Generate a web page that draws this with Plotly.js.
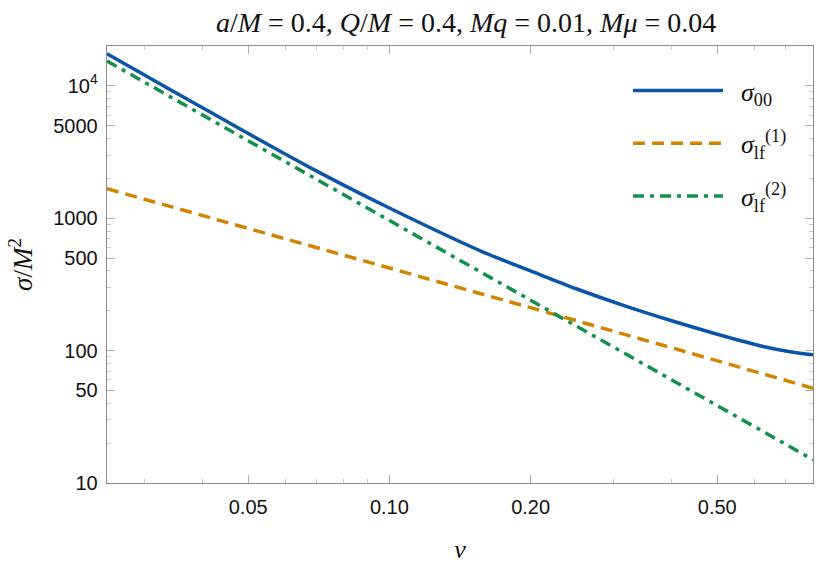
<!DOCTYPE html>
<html>
<head>
<meta charset="utf-8">
<script src="https://cdn.plot.ly/plotly-3.0.1.min.js"></script>
<style>
  html, body { margin: 0; padding: 0; background: #fff; }
  #chart { width: 825px; height: 573px; }
</style>
</head>
<body>
<div id="chart"></div>
<script>
// Cross sections versus velocity v (log-log)
const v00 = [0.025, 0.0345, 0.05, 0.07, 0.1, 0.158, 0.2, 0.251, 0.32, 0.4, 0.5, 0.63, 0.72, 0.8];
const sigma00 = [17500, 9150, 4370, 2270, 1195, 558, 400, 292, 216, 168, 133, 107, 97.5, 93];

const vLf = [0.025, 0.05, 0.1, 0.2, 0.4, 0.8];
const sigmaLf1 = [1670, 840, 421, 211, 105, 52];
const sigmaLf2 = [15400, 3840, 960, 240, 60, 15];

const xTickVals = [0.05, 0.1, 0.2, 0.5];
const xTickText = ['0.05', '0.10', '0.20', '0.50'];
const yTickVals = [10, 50, 100, 500, 1000, 5000, 10000];
const yTickText = ['10', '50', '100', '500', '1000', '5000', '10<sup>4</sup>'];

const serif = 'Liberation Serif, DejaVu Serif, serif';
const sans = 'Liberation Sans, Arial, sans-serif';
const pad = '\u00a0\u00a0';

const traces = [
  {
    x: v00, y: sigma00, type: 'scatter', mode: 'lines',
    name: pad + '<i>σ</i><sub>00</sub>', legendgroup: 'a',
    line: { color: '#0b55a8', width: 3.5, shape: 'spline', smoothing: 0.8 }
  },
  {
    x: vLf, y: sigmaLf1, type: 'scatter', mode: 'lines',
    name: pad + '<i>σ</i><sub>lf</sub><sup>(1)</sup>', legendgroup: 'b',
    line: { color: '#d08400', width: 3.5, dash: '12px,7px' }
  },
  {
    x: vLf, y: sigmaLf2, type: 'scatter', mode: 'lines',
    name: pad + '<i>σ</i><sub>lf</sub><sup>(2)</sup>', legendgroup: 'c',
    line: { color: '#13914b', width: 3.5, dash: '11px,6px,4px,6px' }
  }
];

const axisCommon = {
  type: 'log',
  showgrid: false,
  zeroline: false,
  showline: true,
  linecolor: '#8a8a8a',
  linewidth: 1.3,
  mirror: 'allticks',
  ticks: 'inside',
  ticklen: 8,
  tickwidth: 1,
  tickcolor: '#b0b0b0',
  tickmode: 'array',
  tickfont: { family: sans, size: 20, color: '#111' }
};

const layout = {
  width: 825, height: 573,
  margin: { l: 107, r: 12, t: 46, b: 90 },
  paper_bgcolor: '#fff', plot_bgcolor: '#fff',
  title: {
    text: '<i>a</i>/<i>M</i> = 0.4, <i>Q</i>/<i>M</i> = 0.4, <i>Mq</i> = 0.01, <i>Mμ</i> = 0.04',
    font: { family: serif, size: 28, color: '#111' },
    x: 0.565, xanchor: 'center', y: 0.962, yanchor: 'middle'
  },
  xaxis: Object.assign({}, axisCommon, {
    range: [Math.log10(0.025), Math.log10(0.8)],
    tickvals: xTickVals, ticktext: xTickText,
    ticklabelstandoff: 6,
    minor: { ticks: 'inside', ticklen: 4, tickcolor: '#c8c8c8', dtick: 'D1', showgrid: false },
    title: { text: '<i>v</i>', font: { family: serif, size: 26, color: '#111' }, standoff: 22 }
  }),
  yaxis: Object.assign({}, axisCommon, {
    range: [1, Math.log10(20000)],
    tickvals: yTickVals, ticktext: yTickText,
    ticklabelstandoff: 4,
    minor: { ticks: 'inside', ticklen: 4, tickcolor: '#c8c8c8', dtick: 'D1', showgrid: false },
    title: { text: '<i>σ</i>/<i>M</i><sup>2</sup>', font: { family: serif, size: 27, color: '#111' }, standoff: 12 }
  }),
  showlegend: true,
  legend: {
    x: 0.738, xanchor: 'left', y: 0.952, yanchor: 'top',
    bgcolor: 'rgba(0,0,0,0)',
    font: { family: serif, size: 26, color: '#111' },
    itemwidth: 90,
    tracegroupgap: 16
  }
};

Plotly.newPlot('chart', traces, layout, { displayModeBar: false, staticPlot: true });
</script>
</body>
</html>
